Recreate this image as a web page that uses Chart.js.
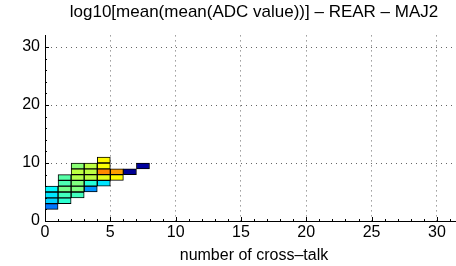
<!DOCTYPE html>
<html>
<head>
<meta charset="utf-8">
<script src="https://cdn.jsdelivr.net/npm/chart.js@4/dist/chart.umd.min.js"></script>
<style>
  html, body { margin: 0; padding: 0; overflow: hidden; background: #fff; }
</style>
</head>
<body>
<canvas id="hist2d" width="463" height="266"></canvas>
<script>
// histogram cells: column (number of cross-talk), row (lower edge), colour level 0..1
const cellCol = [0, 0, 0, 0,  1, 1, 1, 1, 1,  2, 2, 2, 2, 2, 2,  3, 3, 3, 3, 3,  4, 4, 4, 4, 4,  5, 5,  6,  7];
const cellRow = [2, 3, 4, 5,  3, 4, 5, 6, 7,  4, 5, 6, 7, 8, 9,  5, 6, 7, 8, 9,  6, 7, 8, 9, 10, 7, 8,  8,  9];
const cellLevel = [0.24, 0.33, 0.35, 0.37,
                   0.42, 0.44, 0.49, 0.45, 0.46,
                   0.44, 0.50, 0.50, 0.55, 0.56, 0.51,
                   0.27, 0.41, 0.56, 0.56, 0.56,
                   0.35, 0.60, 0.74, 0.62, 0.63,
                   0.63, 0.72,
                   0.02,
                   0.03];
const xTicks = [0, 5, 10, 15, 20, 25, 30];
const yTicks = [0, 10, 20, 30];

// matlab jet colormap
function jet(t) {
    const c = v => Math.round(255 * Math.max(0, Math.min(1, v)));
    const r = 1.5 - Math.abs(4 * t - 3);
    const g = 1.5 - Math.abs(4 * t - 2);
    const b = 1.5 - Math.abs(4 * t - 1);
    return 'rgb(' + c(r) + ',' + c(g) + ',' + c(b) + ')';
}

const cells = cellCol.map((c, i) => ({ x: c + 0.5, y: [cellRow[i], cellRow[i] + 1] }));
const FONT = 'Liberation Sans, Arial, Helvetica, sans-serif';

// inward tick marks like matlab (minor every 1 on x, every 2 on y)
const innerTicks = {
    id: 'innerTicks',
    afterDraw(chart) {
        const { ctx, chartArea: a, scales: { x, y } } = chart;
        ctx.save();
        ctx.strokeStyle = '#000';
        ctx.lineWidth = 1;
        ctx.beginPath();
        for (let v = 1; v <= 31; v++) {
            const px = Math.round(x.getPixelForValue(v)) + 0.5;
            const len = v % 5 === 0 ? 4 : 2;
            ctx.moveTo(px, a.bottom);
            ctx.lineTo(px, a.bottom - len);
        }
        for (let v = 2; v <= 30; v += 2) {
            const py = Math.round(y.getPixelForValue(v)) + 0.5;
            const len = v % 10 === 0 ? 4 : 2;
            ctx.moveTo(a.left, py);
            ctx.lineTo(a.left + len, py);
        }
        ctx.stroke();
        ctx.restore();
    }
};

const gridColor = c => c.tick && c.tick.value === 0 ? 'rgba(0,0,0,0)' : 'rgba(0,0,0,0.6)';

new Chart(document.getElementById('hist2d'), {
    type: 'bar',
    data: {
        datasets: [{
            data: cells,
            backgroundColor: cellLevel.map(jet),
            borderColor: '#000',
            borderWidth: 1,
            borderSkipped: false,
            barPercentage: 1,
            categoryPercentage: 1
        }]
    },
    options: {
        responsive: false,
        animation: false,
        layout: { padding: 0 },
        plugins: {
            legend: { display: false },
            tooltip: { enabled: false },
            title: {
                display: true,
                fullSize: false,
                text: 'log10[mean(mean(ADC value))] \u2013 REAR \u2013 MAJ2',
                color: '#000',
                font: { family: FONT, size: 17, weight: 'normal' },
                padding: { top: 2, bottom: 13 }
            }
        },
        scales: {
            x: {
                type: 'linear',
                min: 0,
                max: 32,
                offset: false,
                afterFit: s => { s.height = 45; },
                afterBuildTicks: s => { s.ticks = xTicks.map(v => ({ value: v })); },
                ticks: { color: '#000', font: { family: FONT, size: 16 }, padding: 2, maxRotation: 0 },
                grid: { offset: false, drawTicks: false, color: gridColor },
                border: { display: true, color: '#000', width: 1, dash: [1, 4] },
                title: {
                    display: true,
                    text: 'number of cross\u2013talk',
                    color: '#000',
                    font: { family: FONT, size: 16 },
                    padding: { top: 0, bottom: 1 }
                }
            },
            y: {
                type: 'linear',
                min: 0,
                max: 32,
                afterFit: s => { s.width = 45; },
                afterBuildTicks: s => { s.ticks = yTicks.map(v => ({ value: v })); },
                ticks: { color: '#000', font: { family: FONT, size: 16 }, padding: 5 },
                grid: { drawTicks: false, color: gridColor },
                border: { display: true, color: '#000', width: 1, dash: [1, 4] }
            }
        }
    },
    plugins: [innerTicks]
});
</script>
</body>
</html>
